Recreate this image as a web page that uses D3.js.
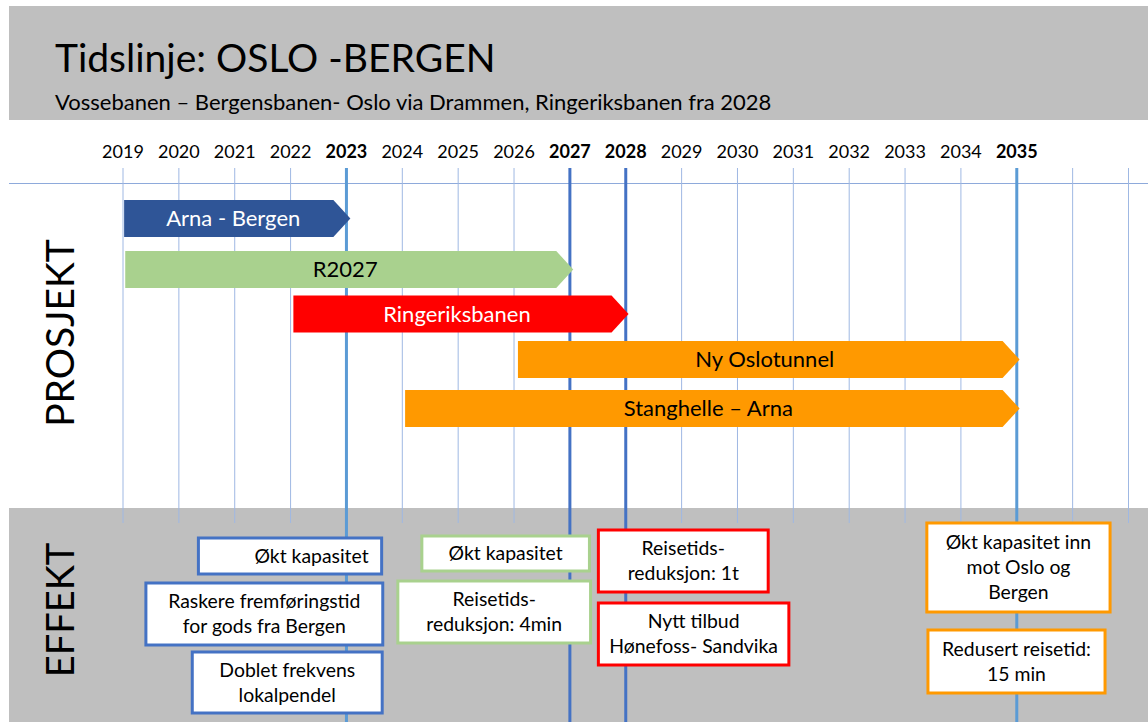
<!DOCTYPE html>
<html>
<head>
<meta charset="utf-8">
<script src="https://cdn.jsdelivr.net/npm/d3@7"></script>
<style>
  body { margin: 0; background: #fff; }
  svg { display: block; font-family: Lato, "Noto Sans", sans-serif; }
</style>
</head>
<body>
<svg width="1148" height="722"></svg>
<script>
// ---- data ----
var TITLE = "Tidslinje: OSLO -BERGEN";
var SUBTITLE = "Vossebanen – Bergensbanen- Oslo via Drammen, Ringeriksbanen fra 2028";

var YEAR_LABELS = [2019, 2020, 2021, 2022, 2023, 2024, 2025, 2026, 2027,
  2028, 2029, 2030, 2031, 2032, 2033, 2034, 2035];
var GRID_YEARS = [2019, 2020, 2021, 2022, 2023, 2024, 2025, 2026, 2027,
  2028, 2029, 2030, 2031, 2032, 2033, 2034, 2035, 2036, 2037];
var KEY_YEARS = [2023, 2027, 2028, 2035];

var PROJECT_NAMES = ["Arna - Bergen", "R2027", "Ringeriksbanen", "Ny Oslotunnel", "Stanghelle – Arna"];
var PROJECT_START = [2019.02, 2019.04, 2022.05, 2026.07, 2024.05];
var PROJECT_END = [2023.07, 2027.06, 2028.05, 2035.05, 2035.05];

var EFFECT_TEXT = [
  ["Økt kapasitet"],
  ["Raskere fremføringstid", "for gods fra Bergen"],
  ["Doblet frekvens", "lokalpendel"],
  ["Økt kapasitet"],
  ["Reisetids-", "reduksjon: 4min"],
  ["Reisetids-", "reduksjon: 1t"],
  ["Nytt tilbud", "Hønefoss- Sandvika"],
  ["Økt kapasitet inn", "mot Oslo og", "Bergen"],
  ["Redusert reisetid:", "15 min"]
];
var EFFECT_PROJECT = [0, 0, 0, 1, 1, 2, 2, 3, 4];

// ---- layout & styles ----
var BAR_COLOR = ["#2f5597", "#a9d18e", "#ff0000", "#ff9900", "#ff9900"];
var BAR_TEXT = ["#ffffff", "#000000", "#ffffff", "#000000", "#000000"];
var BORDER_COLOR = ["#4472c4", "#a9d18e", "#ff0000", "#ff9900", "#ff9900"];
var KEY_COLOR = { 2023: "#5b9bd5", 2027: "#4472c4", 2028: "#4472c4", 2035: "#5b9bd5" };

var BAR_TOP = [200, 251, 295.5, 341, 390];
var BAR_H = 37, TIP = 17;

// effect boxes: [fromYear, toYear, top, bottom, align]
var EFFECT_BOX = [
  [2020.35, 2023.63, 538, 574, "end"],
  [2019.41, 2023.65, 583, 645, "middle"],
  [2020.24, 2023.64, 652, 713, "middle"],
  [2024.35, 2027.35, 536, 571, "middle"],
  [2023.92, 2027.37, 581, 643, "middle"],
  [2027.51, 2030.55, 530, 592, "middle"],
  [2027.51, 2030.92, 603, 665, "middle"],
  [2033.39, 2036.67, 523, 612, "middle"],
  [2033.41, 2036.58, 630, 693, "middle"]
];

var svg = d3.select("svg"),
  W = +svg.attr("width"),
  H = +svg.attr("height");

var x = d3.scaleLinear().domain([2019, 2037]).range([123, 1128.5]);

// background bands
svg.append("rect").attr("x", 9).attr("y", 6).attr("width", W - 9).attr("height", 114).attr("fill", "#bfbfbf");
svg.append("rect").attr("x", 9).attr("y", 508).attr("width", W - 9).attr("height", H - 508).attr("fill", "#bfbfbf");

// title
svg.append("text")
  .attr("x", 55).attr("y", 72)
  .style("font-size", "39px")
  .text(TITLE);

svg.append("text")
  .attr("x", 55).attr("y", 110)
  .style("font-size", "22px")
  .text(SUBTITLE);

// year axis
svg.append("line")
  .attr("x1", 9).attr("x2", W)
  .attr("y1", 183.5).attr("y2", 183.5)
  .attr("stroke", "#8eaadb").attr("stroke-width", 1);

svg.selectAll(".year")
  .data(YEAR_LABELS)
  .enter()
  .append("text")
  .attr("class", "year")
  .attr("x", function (d) { return x(d); })
  .attr("y", 158)
  .attr("text-anchor", "middle")
  .style("font-size", "18px")
  .style("font-weight", function (d) { return KEY_YEARS.indexOf(d) >= 0 ? "bold" : "normal"; })
  .text(function (d) { return d; });

// grid lines
svg.selectAll(".grid")
  .data(GRID_YEARS.filter(function (d) { return KEY_YEARS.indexOf(d) < 0; }))
  .enter()
  .append("line")
  .attr("class", "grid")
  .attr("x1", function (d) { return x(d); })
  .attr("x2", function (d) { return x(d); })
  .attr("y1", 168).attr("y2", 523)
  .attr("stroke", "#9fb8e3").attr("stroke-width", 1);

svg.selectAll(".key")
  .data(KEY_YEARS)
  .enter()
  .append("line")
  .attr("class", "key")
  .attr("x1", function (d) { return x(d); })
  .attr("x2", function (d) { return x(d); })
  .attr("y1", 168).attr("y2", H)
  .attr("stroke", function (d) { return KEY_COLOR[d]; })
  .attr("stroke-width", 3);

// side labels
svg.append("text")
  .attr("transform", "translate(74,333)rotate(-90)")
  .attr("text-anchor", "middle")
  .style("font-size", "39px")
  .text("PROSJEKT");

svg.append("text")
  .attr("transform", "translate(74,610)rotate(-90)")
  .attr("text-anchor", "middle")
  .style("font-size", "38px")
  .text("EFFEKT");

// project arrows
var bars = svg.selectAll(".bar")
  .data(PROJECT_NAMES)
  .enter()
  .append("g")
  .attr("class", "bar");

bars.append("path")
  .attr("d", function (d, i) {
    var x0 = x(PROJECT_START[i]), x1 = x(PROJECT_END[i]),
      y0 = BAR_TOP[i], y1 = y0 + BAR_H;
    return "M" + x0 + "," + y0 + "L" + (x1 - TIP) + "," + y0 + "L" + x1 + "," + (y0 + BAR_H / 2) +
      "L" + (x1 - TIP) + "," + y1 + "L" + x0 + "," + y1 + "Z";
  })
  .attr("fill", function (d, i) { return BAR_COLOR[i]; });

bars.append("text")
  .attr("x", function (d, i) { return (x(PROJECT_START[i]) + x(PROJECT_END[i])) / 2 - 4; })
  .attr("y", function (d, i) { return BAR_TOP[i] + BAR_H / 2; })
  .attr("dy", "0.36em")
  .attr("text-anchor", "middle")
  .attr("fill", function (d, i) { return BAR_TEXT[i]; })
  .style("font-size", "22px")
  .text(function (d) { return d; });

// effect boxes
var boxes = svg.selectAll(".effect")
  .data(EFFECT_TEXT)
  .enter()
  .append("g")
  .attr("class", "effect");

boxes.append("rect")
  .attr("x", function (d, i) { return x(EFFECT_BOX[i][0]); })
  .attr("y", function (d, i) { return EFFECT_BOX[i][2]; })
  .attr("width", function (d, i) { return x(EFFECT_BOX[i][1]) - x(EFFECT_BOX[i][0]); })
  .attr("height", function (d, i) { return EFFECT_BOX[i][3] - EFFECT_BOX[i][2]; })
  .attr("fill", "#ffffff")
  .attr("stroke", function (d, i) { return BORDER_COLOR[EFFECT_PROJECT[i]]; })
  .attr("stroke-width", 3);

boxes.each(function (lines, i) {
  var b = EFFECT_BOX[i],
    lh = 25,
    cy = (b[2] + b[3]) / 2,
    tx = b[4] === "end" ? x(b[1]) - 13 : (x(b[0]) + x(b[1])) / 2;
  d3.select(this).selectAll("text")
    .data(lines)
    .enter()
    .append("text")
    .attr("x", tx)
    .attr("y", function (t, j) { return cy + (j - (lines.length - 1) / 2) * lh; })
    .attr("dy", "0.36em")
    .attr("text-anchor", b[4])
    .style("font-size", "19.4px")
    .text(function (t) { return t; });
});
</script>
</body>
</html>
